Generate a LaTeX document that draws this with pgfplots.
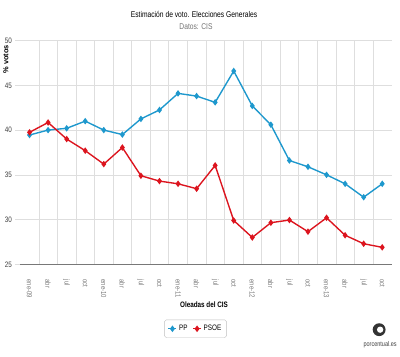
\documentclass[border=0pt]{standalone}
\usepackage{pgfplots}
\pgfplotsset{compat=1.18}
\usepackage{fontspec}
\setmainfont{Liberation Sans}
\newfontfamily\narrow[FakeStretch=0.8]{Liberation Sans}
\definecolor{ppblue}{RGB}{30,152,205}
\definecolor{psoered}{RGB}{220,20,30}
\definecolor{gridc}{RGB}{222,222,222}
\definecolor{tickc}{RGB}{120,120,120}
\begin{document}
\begin{tikzpicture}
\begin{axis}[
  name=ax,
  scale only axis,
  width=375bp, height=226bp,
  xmin=-0.5, xmax=19.5,
  ymin=25, ymax=50,
  ytick={25,30,35,40,45,50},
  xtick={0,...,19},
  xticklabels={ene-09,abr,jul,oct,ene-10,abr,jul,oct,ene-11,abr,jul,oct,ene-12,abr,jul,oct,ene-13,abr,jul,oct},
  minor xtick={0.5,1.5,...,18.5},
  xminorgrids=true, ymajorgrids=true,
  minor grid style={gridc, line width=0.6bp},
  major grid style={gridc, line width=0.6bp},
  axis x line*=bottom, axis y line*=left,
  x axis line style={draw=tickc, line width=0.6bp, -},
  y axis line style={draw=none},
  major x tick style={draw=none}, minor x tick style={draw=none},
  major y tick style={draw=gridc, line width=0.6bp},
  major tick length=5bp,
  tick align=outside,
  x tick label style={rotate=-90, anchor=west, font=\narrow\fontsize{7.5}{8}\selectfont, text=tickc},
  xticklabel shift=7bp,
  y tick label style={font=\narrow\fontsize{8}{9}\selectfont, text=black!75},
  /pgf/number format/assume math mode=true,
  xlabel={\textbf{Oleadas del CIS}},
  xlabel style={font=\narrow\fontsize{8}{9}\selectfont, at={(axis description cs:0.495,-0.181)}, anchor=center},
  legend style={at={(axis description cs:0.472,-0.288)}, anchor=center, draw=black!25, rounded corners=2bp, font=\narrow\fontsize{8}{9}\selectfont, inner sep=3.5bp, legend columns=2, /tikz/every even column/.append style={column sep=3bp}},
  legend image code/.code={\draw[mark repeat=2,mark phase=2,#1] plot coordinates {(0bp,0bp) (4bp,0bp) (8bp,0bp)};},
]
\addplot[ppblue, line width=1.4bp, mark=diamond*, mark size=2.2bp] coordinates {
(0,39.45) (1,40.0) (2,40.2) (3,41.0) (4,40.0) (5,39.5) (6,41.25) (7,42.25) (8,44.1) (9,43.8)
(10,43.1) (11,46.6) (12,42.7) (13,40.6) (14,36.6) (15,35.9) (16,35.0) (17,34.0) (18,32.5) (19,34.0)};
\addlegendentry{PP}
\addplot[psoered, line width=1.4bp, mark=diamond*, mark size=2.2bp] coordinates {
(0,39.75) (1,40.85) (2,39.0) (3,37.7) (4,36.2) (5,38.05) (6,34.9) (7,34.3) (8,34.0) (9,33.45)
(10,36.05) (11,29.9) (12,28.0) (13,29.65) (14,29.95) (15,28.65) (16,30.2) (17,28.25) (18,27.3) (19,26.9)};
\addlegendentry{PSOE}
\end{axis}
\path (ax.south west) ++(-19.5bp,-93bp) coordinate (bl) rectangle ++(400bp,360bp) coordinate (tr);
\node[font=\narrow\fontsize{8.5}{9}\selectfont, anchor=center] at ([xshift=195bp,yshift=-15bp]bl|-tr) {Estimación de voto. Elecciones Generales};
\node[font=\narrow\fontsize{8.5}{9}\selectfont, text=black!55, anchor=center] at ([xshift=197bp,yshift=-27bp]bl|-tr) {Datos: CIS};
\node[font=\bfseries\fontsize{7.5}{8}\selectfont, rotate=90, anchor=center] at ([xshift=5bp,yshift=-60bp]bl|-tr) {\% votos};
\fill[black!80] ([xshift=382bp,yshift=27bp]bl) circle (6.5bp);
\fill[white] ([xshift=383bp,yshift=27bp]bl) circle (3.2bp);
\node[font=\narrow\fontsize{7}{8}\selectfont, text=black!75] at ([xshift=383bp,yshift=12bp]bl) {porcentual.es};
\end{tikzpicture}
\end{document}
